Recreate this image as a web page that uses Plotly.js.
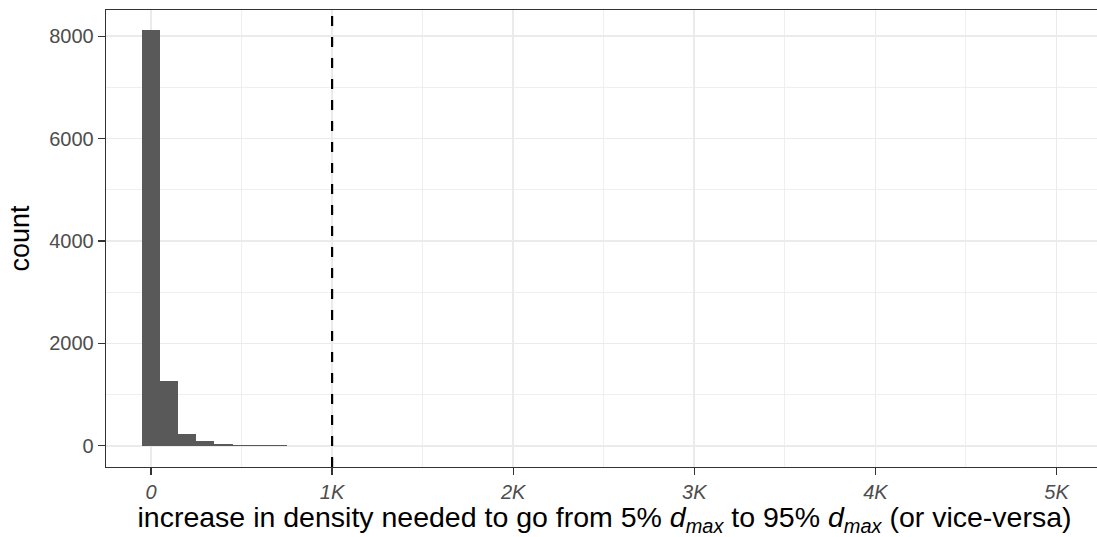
<!DOCTYPE html>
<html>
<head>
<meta charset="utf-8">
<script src="https://cdn.plot.ly/plotly-3.0.1.min.js"></script>
<style>
html, body { margin: 0; padding: 0; overflow: hidden; background: #fff; width: 1097px; height: 537px; }
#chart { width: 1103px; height: 537px; }
</style>
</head>
<body>
<div id="chart"></div>
<script>
// Histogram bins (centres, binwidth 100) and their counts
var binCenters = [0, 100, 200, 300, 400, 500, 600, 700, 800, 900, 1000, 1100, 1200, 1300, 1400, 1500, 1600, 1700, 1800, 1900, 2100, 2200, 2500, 2600, 2700, 3000, 3200, 3400, 3700, 4200, 4300, 4500, 4600, 4900, 5100, 5200];
var counts     = [8120, 1262, 225, 90, 43, 23, 14, 10, 6, 5, 4, 3, 3, 2, 2, 1, 2, 4, 1, 1, 3, 1, 2, 1, 1, 2, 1, 1, 1, 2, 3, 2, 1, 2, 1, 1];
var binWidth = 100;
var thresholdX = 1000;

var xTickVals = [0, 1000, 2000, 3000, 4000, 5000];
var xTickText = ['0', '1K', '2K', '3K', '4K', '5K'];
var yTickVals = [0, 2000, 4000, 6000, 8000];
var yTickText = ['0', '2000', '4000', '6000', '8000'];

var FONT = 'Liberation Sans, Arial, Helvetica, sans-serif';

var trace = {
  type: 'bar',
  x: binCenters,
  y: counts,
  width: binCenters.map(function () { return binWidth; }),
  marker: { color: '#595959', line: { width: 0 } },
  hoverinfo: 'x+y'
};

var layout = {
  width: 1103,
  height: 537,
  margin: { l: 106, r: 0, t: 10, b: 70 },
  paper_bgcolor: '#ffffff',
  plot_bgcolor: '#ffffff',
  bargap: 0,
  showlegend: false,
  font: { family: FONT, color: '#000000' },
  xaxis: {
    range: [-248.5, 5256.8],
    tickmode: 'array',
    tickvals: xTickVals,
    ticktext: xTickText.map(function (t) { return '<i>' + t + '</i>'; }),
    tickfont: { family: FONT, size: 20, color: '#4D4D4D' },
    ticks: 'outside',
    ticklen: 7,
    tickwidth: 1.3,
    tickcolor: '#333333',
    showline: true,
    linecolor: '#333333',
    linewidth: 1.3,
    mirror: true,
    showgrid: true,
    gridcolor: '#EBEBEB',
    gridwidth: 1.6,
    zeroline: false,
    minor: { dtick: 1000, tick0: 500, showgrid: true, gridcolor: '#EBEBEB', gridwidth: 0.8, ticks: '' },
    title: {
      text: 'increase in density needed to go from 5% <i>d</i><sub><i>max</i></sub> to 95% <i>d</i><sub><i>max</i></sub> (or vice-versa)',
      font: { family: FONT, size: 28.5, color: '#000000' },
      standoff: 1
    },
    automargin: false
  },
  yaxis: {
    range: [-414, 8513],
    tickmode: 'array',
    tickvals: yTickVals,
    ticktext: yTickText,
    tickfont: { family: FONT, size: 20, color: '#4D4D4D' },
    ticks: 'outside',
    ticklen: 7,
    tickwidth: 1.3,
    tickcolor: '#333333',
    showline: true,
    linecolor: '#333333',
    linewidth: 1.3,
    mirror: true,
    showgrid: true,
    gridcolor: '#EBEBEB',
    gridwidth: 1.6,
    zeroline: false,
    minor: { dtick: 2000, tick0: 1000, showgrid: true, gridcolor: '#EBEBEB', gridwidth: 0.8, ticks: '' },
    title: {
      text: 'count',
      font: { family: FONT, size: 27, color: '#000000' },
      standoff: 11
    },
    automargin: false
  },
  shapes: [{
    type: 'line',
    xref: 'x', yref: 'paper',
    x0: thresholdX, x1: thresholdX, y0: 0, y1: 1,
    line: { color: '#000000', width: 2.2, dash: '10px,11px' },
    layer: 'above'
  }]
};

Plotly.newPlot('chart', [trace], layout, { staticPlot: true, displayModeBar: false });
</script>
</body>
</html>
